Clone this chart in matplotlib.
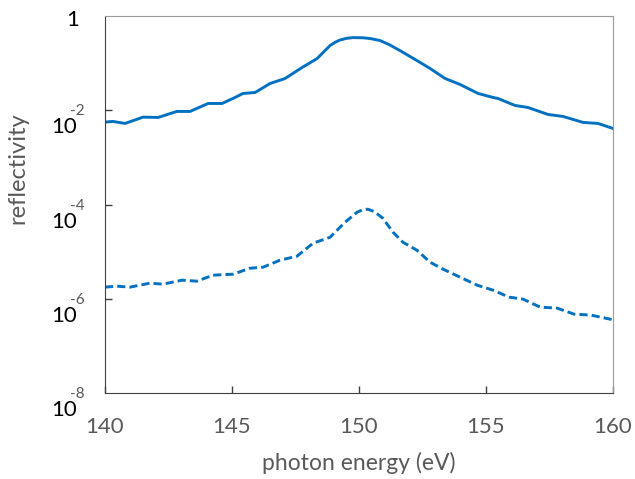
import numpy as np
import matplotlib
matplotlib.use("Agg")
import matplotlib.pyplot as plt
from matplotlib.transforms import offset_copy

# photon energy (eV) and log10(reflectivity)
energy_top = [140.00, 140.31, 140.79, 141.50, 142.09, 142.83, 143.35, 144.06, 144.61,
              145.12, 145.43, 145.91, 146.50, 147.09, 147.76, 148.35, 148.86, 149.05,
              149.25, 149.50, 149.76, 150.16, 150.45, 150.83, 151.20, 151.61, 152.28,
              152.80, 153.39, 153.98, 154.69, 155.28, 155.47, 156.14, 156.65, 157.44,
              158.03, 158.82, 159.41, 160.00]
logR_top = [-2.252, -2.237, -2.280, -2.146, -2.153, -2.025, -2.025, -1.856, -1.856,
            -1.729, -1.644, -1.623, -1.432, -1.326, -1.093, -0.903, -0.627, -0.560,
            -0.510, -0.475, -0.458, -0.462, -0.479, -0.521, -0.610, -0.733, -0.945,
            -1.114, -1.326, -1.453, -1.644, -1.729, -1.750, -1.898, -1.941, -2.089,
            -2.131, -2.258, -2.280, -2.386]

energy_bot = [140.00, 140.47, 140.98, 141.77, 142.28, 143.03, 143.62, 144.25, 145.04,
              145.71, 146.22, 146.89, 147.56, 148.19, 148.86, 149.45, 149.92, 150.15,
              150.35, 150.60, 150.94, 151.34, 151.73, 152.28, 152.80, 153.31, 153.98,
              154.65, 155.28, 155.91, 156.46, 157.13, 157.80, 158.46, 159.13, 159.88,
              160.00]
logR_bot = [-5.754, -5.733, -5.754, -5.669, -5.691, -5.606, -5.627, -5.500, -5.479,
            -5.352, -5.331, -5.182, -5.097, -4.822, -4.695, -4.377, -4.165, -4.110,
            -4.100, -4.150, -4.292, -4.589, -4.801, -4.970, -5.225, -5.373, -5.542,
            -5.712, -5.818, -5.966, -6.008, -6.178, -6.199, -6.326, -6.347, -6.432,
            -6.453]

x_ticks = [140, 145, 150, 155, 160]
y_exps = [-2, -4, -6, -8]

plt.rcParams['font.family'] = ['Lato', 'DejaVu Sans']
blue = '#0070C0'
grey = '#595959'

fig = plt.figure(figsize=(6.35, 4.79), dpi=100)
ax = fig.add_axes([105/635, 86/479, 508/635, 377/479])

ax.plot(energy_top, 10**np.array(logR_top), color=blue, lw=2.1,
        solid_capstyle='round', solid_joinstyle='round')
ax.plot(energy_bot, 10**np.array(logR_bot), color=blue, lw=2.1, dashes=(2.8, 1.4))

ax.set_yscale('log')
ax.set_xlim(140, 160)
ax.set_ylim(1e-8, 1)

ax.set_xticks(x_ticks)
ax.set_xticklabels([str(t) for t in x_ticks])
ax.tick_params(axis='x', direction='in', length=5, width=1, color='#404040',
               labelsize=16, labelcolor=grey, pad=17)
ax.set_yticks([10.0**e for e in y_exps[:-1]])
ax.set_yticklabels([])
ax.minorticks_off()
ax.tick_params(axis='y', direction='in', length=5, width=1, color='#404040')

for side in ['left', 'bottom']:
    ax.spines[side].set_color('#404040')
for side in ['top', 'right']:
    ax.spines[side].set_color('#9a9a9a')

# excel-like tick labels: black "10" with grey exponent above
tr = ax.get_yaxis_transform()
for e in y_exps:
    t1 = offset_copy(tr, fig=fig, x=-28, y=-17, units='dots')
    ax.text(0, 10.0**e, '10', transform=t1, ha='right', va='center',
            fontsize=16, color='black', clip_on=False)
    t2 = offset_copy(tr, fig=fig, x=-35, y=-1, units='dots')
    ax.text(0, 10.0**e, str(e), transform=t2, ha='left', va='center',
            fontsize=11, color=grey, clip_on=False)
t0 = offset_copy(tr, fig=fig, x=-26, y=-4, units='dots')
ax.text(0, 1, '1', transform=t0, ha='right', va='center', fontsize=16,
        color='black', clip_on=False)

ax.set_xlabel('photon energy (eV)', fontsize=16.5, color=grey, labelpad=11)
fig.text(18/635, 1 - 168/479, 'reflectivity', rotation=90, ha='center', va='center',
         fontsize=17, color=grey)

fig.savefig('out.png', dpi=100)
